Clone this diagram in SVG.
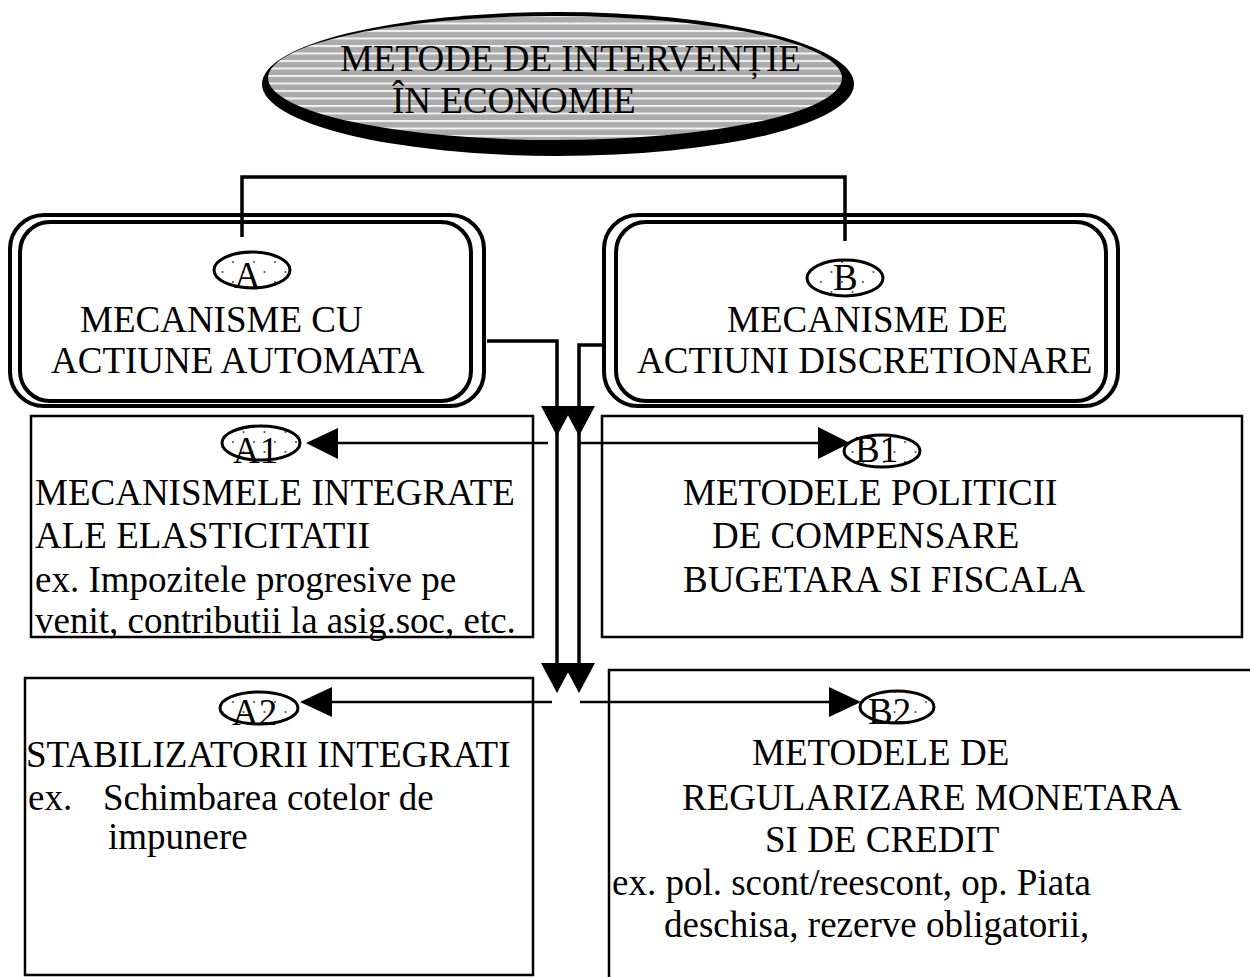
<svg xmlns="http://www.w3.org/2000/svg" width="1250" height="977" viewBox="0 0 1250 977">
<style>
text{font-family:"Liberation Serif","Times New Roman",serif;font-size:37px;fill:#000}
.box{fill:none;stroke:#000;stroke-width:2.5}
.rr{fill:none;stroke:#000;stroke-width:4}
.tag{fill:url(#dots);stroke:#000;stroke-width:3}
.ln{fill:none;stroke:#000;stroke-width:3.5}
.thin{fill:none;stroke:#000;stroke-width:2.5}
.ah{fill:#000;stroke:none}
</style>
<defs>
<pattern id="stripes" patternUnits="userSpaceOnUse" width="20" height="7.5">
<rect width="20" height="7.5" fill="#ababab"/>
<rect y="0" width="20" height="2" fill="#f2f2f2"/>
</pattern>
<pattern id="dots" patternUnits="userSpaceOnUse" width="21" height="20">
<rect width="21" height="20" fill="#fff"/>
<circle cx="2" cy="2" r="1.1" fill="#555"/>
<circle cx="12.5" cy="12" r="1.1" fill="#555"/>
</pattern>
</defs>
<rect width="1250" height="977" fill="#fff"/>

<g id="title">
<ellipse cx="558" cy="84" rx="296" ry="72" fill="#000"/>
<ellipse cx="555" cy="78" rx="287" ry="62" fill="url(#stripes)"/>
<text x="340" y="71">METODE DE INTERVENȚIE</text>
<text x="392" y="113">ÎN ECONOMIE</text>
</g>

<g id="nodeA">
<rect class="rr" x="10" y="215" width="474" height="191" rx="34"/>
<rect class="rr" x="20" y="222" width="451" height="179" rx="30"/>
<ellipse class="tag" cx="252" cy="270" rx="38" ry="18"/>
<text x="234" y="288">A</text>
<text x="80" y="332">MECANISME CU</text>
<text x="51" y="373">ACTIUNE AUTOMATA</text>
</g>

<g id="nodeB">
<rect class="rr" x="604" y="215" width="514" height="191" rx="34"/>
<rect class="rr" x="616" y="222" width="490" height="179" rx="30"/>
<ellipse class="tag" cx="845" cy="278" rx="38" ry="18"/>
<text x="833" y="290">B</text>
<text x="727" y="332">MECANISME DE</text>
<text x="637" y="373">ACTIUNI DISCRETIONARE</text>
</g>

<g id="nodeA1">
<rect class="box" x="31" y="416" width="502" height="221"/>
<ellipse class="tag" cx="261" cy="443" rx="39" ry="17"/>
<text x="233" y="463">A1</text>
<text x="35" y="505">MECANISMELE INTEGRATE</text>
<text x="35" y="548">ALE ELASTICITATII</text>
<text x="35" y="592">ex. Impozitele progresive pe</text>
<text x="35" y="633">venit, contributii la asig.soc, etc.</text>
</g>

<g id="nodeB1">
<rect class="box" x="602" y="416" width="640" height="221"/>
<ellipse class="tag" cx="882" cy="451" rx="38" ry="16"/>
<text x="855" y="462">B1</text>
<text x="683" y="505">METODELE POLITICII</text>
<text x="712" y="548">DE COMPENSARE</text>
<text x="683" y="592">BUGETARA SI FISCALA</text>
</g>

<g id="nodeA2">
<rect class="box" x="25" y="678" width="508" height="297"/>
<ellipse class="tag" cx="259" cy="708" rx="39" ry="16"/>
<text x="232" y="725">A2</text>
<text x="26" y="767">STABILIZATORII INTEGRATI</text>
<text x="28" y="810">ex.</text>
<text x="103" y="810">Schimbarea cotelor de</text>
<text x="108" y="849">impunere</text>
</g>

<g id="nodeB2">
<polyline class="thin" points="609,977 609,670 1250,670"/>
<ellipse class="tag" cx="897" cy="707" rx="37" ry="16"/>
<text x="868" y="724">B2</text>
<text x="752" y="765">METODELE DE</text>
<text x="682" y="810">REGULARIZARE MONETARA</text>
<text x="765" y="852">SI DE CREDIT</text>
<text x="612" y="895">ex. pol. scont/reescont, op. Piata</text>
<text x="664" y="937">deschisa, rezerve obligatorii,</text>
</g>

<g id="connectors">
<polyline class="ln" points="242,237 242,177 845,177 845,241"/>
<polyline class="ln" points="487,341 557,341 557,420"/>
<polyline class="ln" points="602,345 579,345 579,420"/>
<polygon class="ah" points="541,406 573,406 557,436"/>
<polygon class="ah" points="563,406 595,406 579,436"/>
<line class="ln" x1="557" y1="430" x2="557" y2="670"/>
<line class="ln" x1="579" y1="430" x2="579" y2="670"/>
<polygon class="ah" points="541,663 573,663 557,693"/>
<polygon class="ah" points="563,663 595,663 579,693"/>
<line class="thin" x1="548" y1="443" x2="335" y2="443"/>
<polygon class="ah" points="306,443 338,428 338,459"/>
<line class="thin" x1="580" y1="443" x2="822" y2="443"/>
<polygon class="ah" points="850,443 818,427 818,459"/>
<line class="thin" x1="552" y1="702" x2="330" y2="702"/>
<polygon class="ah" points="300,702 332,687 332,717"/>
<line class="thin" x1="580" y1="702" x2="832" y2="702"/>
<polygon class="ah" points="861,702 829,687 829,717"/>
</g>
</svg>
